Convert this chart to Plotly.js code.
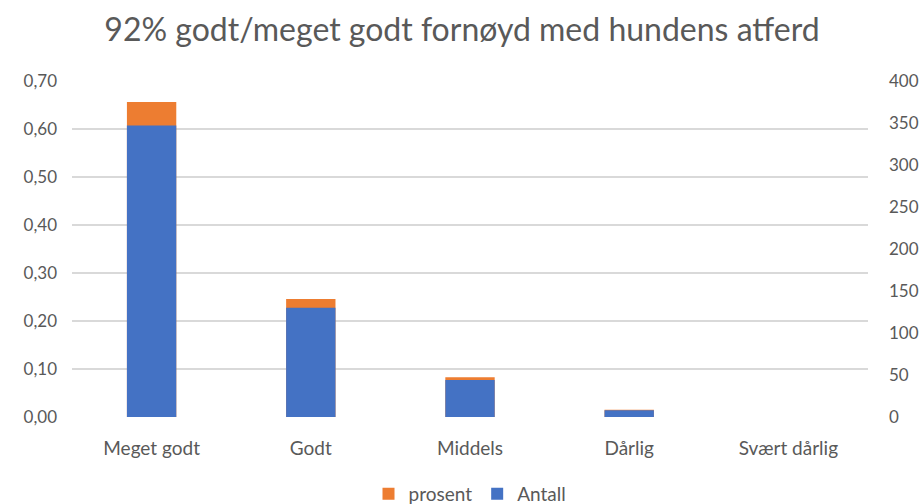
<!DOCTYPE html>
<html><head><meta charset="utf-8">
<script src="https://cdn.plot.ly/plotly-3.0.1.min.js"></script>
<style>html,body{margin:0;padding:0;background:#fff}#c{width:924px;height:504px}</style>
</head><body><div id="c"></div>
<script>
const categories = ["Meget godt", "Godt", "Middels", "Dårlig", "Svært dårlig"];
const prosent = [0.656, 0.246, 0.083, 0.015, 0];
const antall = [347, 130, 44, 8, 0];
const titleText = "92% godt/meget godt fornøyd med hundens atferd";

const FONT = "Lato, 'Open Sans', sans-serif";
const GREY = "#595959";
const traces = [
  {type: "bar", name: "prosent", x: categories, y: prosent, yaxis: "y",
   marker: {color: "#ED7D31"}, width: 0.31},
  {type: "bar", name: "Antall", x: categories, y: antall, yaxis: "y2",
   marker: {color: "#4472C4"}, width: 0.31}
];
const layout = {
  width: 924, height: 504,
  margin: {l: 72, r: 56, t: 81, b: 87},
  paper_bgcolor: "#fff", plot_bgcolor: "#fff",
  separators: ",.",
  barmode: "overlay",
  font: {family: FONT, color: GREY, size: 16},
  title: {text: titleText, x: 0.5, xanchor: "center", y: 0.94, yanchor: "middle",
          font: {family: FONT, size: 32, color: GREY}},
  xaxis: {showgrid: false, zeroline: false, showline: false, ticks: "", automargin: false,
          tickfont: {size: 19, color: GREY}, ticklabelstandoff: 18},
  yaxis: {range: [0, 0.70], dtick: 0.1, tickformat: ".2f", gridcolor: "#d9d9d9", gridwidth: 2,
          zeroline: false, showline: false, ticks: "", automargin: false,
          tickfont: {size: 17, color: GREY}, ticklabelstandoff: 14},
  yaxis2: {range: [0, 400], dtick: 50, overlaying: "y", side: "right", showgrid: false,
           zeroline: false, showline: false, ticks: "", automargin: false,
           tickfont: {size: 17, color: GREY}, ticklabelstandoff: 20},
  showlegend: true,
  legend: {orientation: "h", x: 0.5, xanchor: "center", yref: "container", y: 0.02, yanchor: "middle",
           font: {size: 19, color: GREY}, traceorder: "normal", itemwidth: 30}
};
Plotly.newPlot("c", traces, layout, {displayModeBar: false, staticPlot: true});
</script></body></html>
